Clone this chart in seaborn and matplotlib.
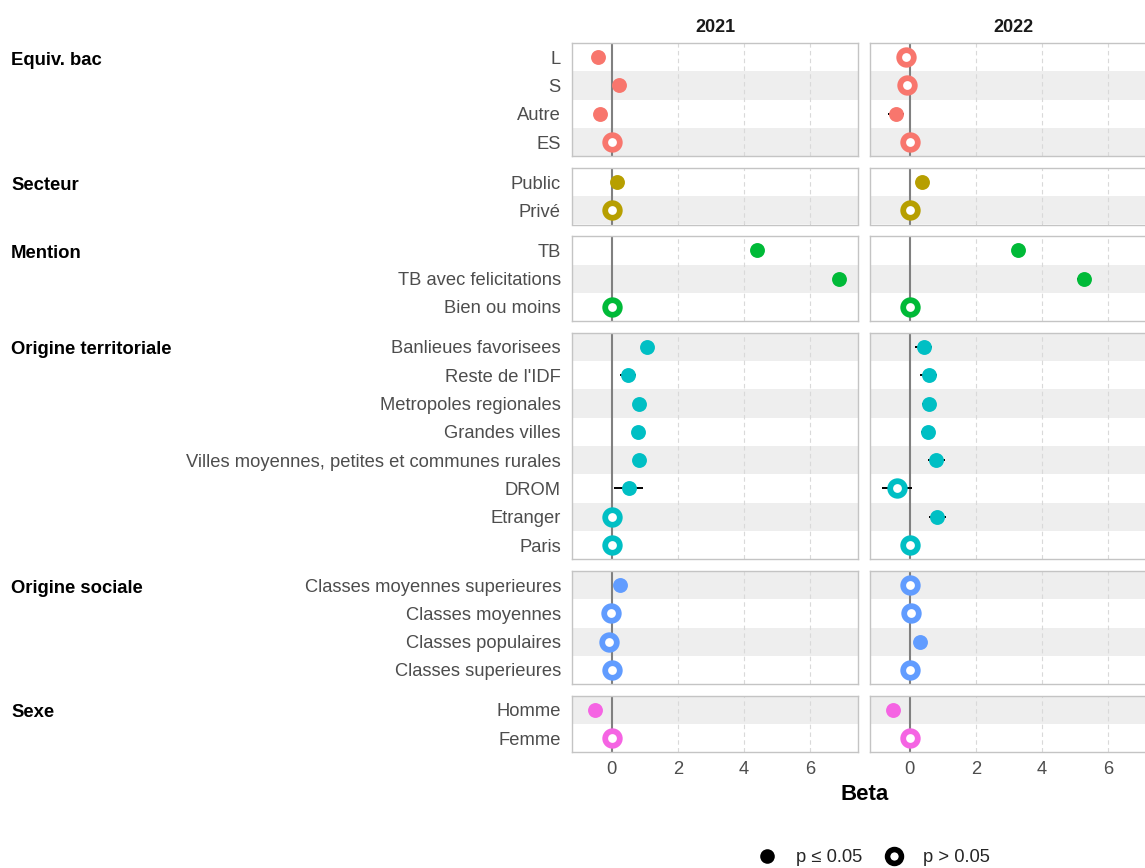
import pandas as pd
import matplotlib
matplotlib.use("Agg")
import matplotlib.pyplot as plt
from matplotlib.lines import Line2D
import seaborn as sns

# Data
groups = ["Equiv. bac", "Secteur", "Mention", "Origine territoriale", "Origine sociale", "Sexe"]
group_sizes = [4, 2, 3, 8, 4, 2]
levels = ["L", "S", "Autre", "ES",
          "Public", "Privé",
          "TB", "TB avec felicitations", "Bien ou moins",
          "Banlieues favorisees", "Reste de l'IDF", "Metropoles regionales", "Grandes villes",
          "Villes moyennes, petites et communes rurales", "DROM", "Etranger", "Paris",
          "Classes moyennes superieures", "Classes moyennes", "Classes populaires", "Classes superieures",
          "Homme", "Femme"]
years = ["2021", "2022"]

beta_2021 = [-0.42, 0.23, -0.35, 0.0,
             0.17, 0.0,
             4.39, 6.88, 0.0,
             1.08, 0.49, 0.82, 0.81, 0.83, 0.51, 0.0, 0.0,
             0.25, -0.01, -0.07, 0.0,
             -0.51, 0.0]
err_2021 = [0.15, 0.15, 0.15, 0.0,
            0.1, 0.0,
            0.15, 0.2, 0.0,
            0.2, 0.25, 0.15, 0.15, 0.15, 0.43, 0.0, 0.0,
            0.1, 0.1, 0.1, 0.0,
            0.1, 0.0]
sig_2021 = [True, True, True, False,
            True, False,
            True, True, False,
            True, True, True, True, True, True, False, False,
            True, False, False, False,
            True, False]

beta_2022 = [-0.1, -0.08, -0.42, 0.0,
             0.36, 0.0,
             3.28, 5.27, 0.0,
             0.42, 0.57, 0.58, 0.55, 0.81, -0.38, 0.84, 0.0,
             0.0, 0.03, 0.31, 0.0,
             -0.5, 0.0]
err_2022 = [0.15, 0.15, 0.25, 0.0,
            0.1, 0.0,
            0.15, 0.2, 0.0,
            0.26, 0.26, 0.2, 0.2, 0.26, 0.46, 0.25, 0.0,
            0.1, 0.1, 0.1, 0.0,
            0.1, 0.0]
sig_2022 = [False, False, True, False,
            True, False,
            True, True, False,
            True, True, True, True, True, False, True, False,
            False, False, True, False,
            True, False]

palette = ["#F8766D", "#B79F00", "#00BA38", "#00BFC4", "#619CFF", "#F564E3"]

# Build a long table
rows = []
for year, betas, errs, sigs in [("2021", beta_2021, err_2021, sig_2021),
                                ("2022", beta_2022, err_2022, sig_2022)]:
    k = 0
    for g, n in zip(groups, group_sizes):
        for j in range(n):
            rows.append(dict(year=year, group=g, level=levels[k], pos=j, idx=k,
                             beta=betas[k], lo=betas[k] - errs[k], hi=betas[k] + errs[k],
                             sig=sigs[k]))
            k += 1
df = pd.DataFrame(rows)

sns.set_style("white")
plt.rcParams["font.family"] = ["Liberation Sans", "DejaVu Sans"]

W, H = 1145, 868
fig = plt.figure(figsize=(W / 100, H / 100), dpi=100)

row_h, gap, top0 = 28.3, 11.7, 43
panel_x = [572, 870]
panel_w = 286
color_of = dict(zip(groups, palette))

rows_before = 0
for gi, (g, n) in enumerate(zip(groups, group_sizes)):
    top = top0 + rows_before * row_h + gi * gap
    hpx = n * row_h
    for ci, year in enumerate(years):
        ax = fig.add_axes([panel_x[ci] / W, 1 - (top + hpx) / H, panel_w / W, hpx / H])
        sub = df[(df.year == year) & (df.group == g)]

        # alternating bands
        for _, r in sub.iterrows():
            if r.idx % 2 == 1:
                ax.axhspan(r.pos - 0.5, r.pos + 0.5, color="#EEEEEE", lw=0, zorder=0)
        for xv in [2, 4, 6]:
            ax.axvline(xv, color="#D9D9D9", lw=0.8, ls=(0, (4, 3)), zorder=1)
        ax.axvline(0, color="#808080", lw=1.5, zorder=2)

        # confidence intervals
        ax.hlines(sub.pos, sub.lo, sub.hi, color="black", lw=1.4, zorder=3)

        filled = sub[sub.sig]
        hollow = sub[~sub.sig]
        if len(filled):
            sns.scatterplot(data=filled, x="beta", y="pos", color=color_of[g], s=115,
                            linewidth=0, ax=ax, zorder=4, legend=False)
        if len(hollow):
            sns.scatterplot(data=hollow, x="beta", y="pos", color=color_of[g], s=215,
                            linewidth=0, ax=ax, zorder=4, legend=False)
            sns.scatterplot(data=hollow, x="beta", y="pos", color="white", s=40,
                            linewidth=0, ax=ax, zorder=5, legend=False)

        ax.set_xlim(-1.2, 7.45)
        ax.set_ylim(n - 0.5, -0.5)
        ax.set_xticks([0, 2, 4, 6])
        ax.set_yticks(list(sub.pos))
        if ci == 0:
            ax.set_yticklabels(list(sub.level))
        else:
            ax.set_yticklabels([])
        if gi < len(groups) - 1:
            ax.set_xticklabels([])
        ax.tick_params(length=0, labelsize=13.25, labelcolor="#4D4D4D")
        ax.tick_params(axis="y", pad=8)
        ax.tick_params(axis="x", pad=6)
        ax.set_xlabel("")
        ax.set_ylabel("")
        for sp in ax.spines.values():
            sp.set_color("#C4C4C4")
            sp.set_linewidth(1)

    fig.text(11 / W, 1 - (top + row_h / 2 + 1) / H, g, fontsize=13.3, fontweight="bold",
             ha="left", va="center_baseline", color="black")
    rows_before += n

for ci, year in enumerate(years):
    fig.text((panel_x[ci] + panel_w / 2) / W, 1 - 27 / H, year, fontsize=13,
             fontweight="bold", ha="center", va="center", color="#1A1A1A")

fig.text(865 / W, 1 - 795 / H, "Beta", fontsize=16, fontweight="bold",
         ha="center", va="center", color="black")

handles = [Line2D([], [], marker="o", ls="", color="black", ms=10.5, mew=0),
           Line2D([], [], marker="o", ls="", mfc="white", mec="black", ms=10, mew=4)]
fig.legend(handles, ["p ≤ 0.05", "p > 0.05"], loc="center",
           bbox_to_anchor=(869 / W, 1 - 858 / H), ncol=2, frameon=False, fontsize=13.25,
           handletextpad=0.6, columnspacing=0.7)

fig.savefig("out.png", dpi=100)
